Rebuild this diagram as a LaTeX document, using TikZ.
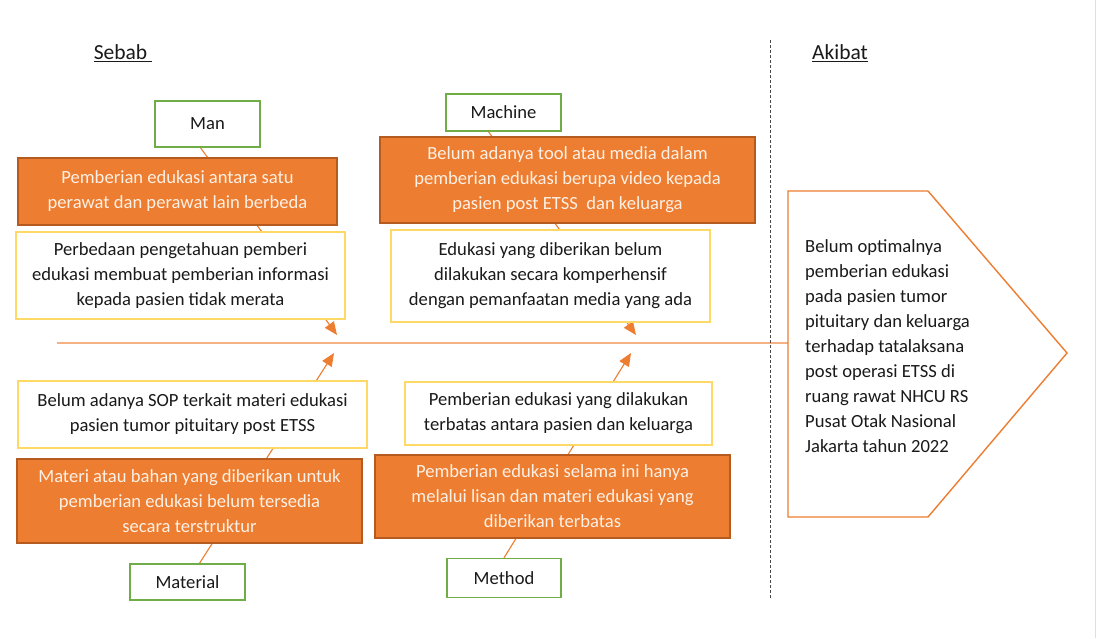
\documentclass[tikz,border=0pt]{standalone}
\usepackage{fontspec}
\setmainfont{Carlito}
\usepackage{tikz}
\usetikzlibrary{positioning, arrows.meta, calc, backgrounds}
\usepackage{xcolor}
\definecolor{fbOrange}{HTML}{ED7D31}
\definecolor{fbOrangeDark}{HTML}{B65B1F}
\definecolor{fbSpine}{HTML}{F4B183}
\definecolor{fbGreen}{HTML}{70AD47}
\definecolor{fbYellow}{HTML}{FFD966}
\definecolor{fbCream}{HTML}{FDF0E4}
\definecolor{fbText}{HTML}{1A1A1A}

\tikzset{
  katbox/.style={draw=fbGreen, line width=1.4pt, fill=white, inner sep=0pt, text=fbText},
  orgbox/.style={draw=fbOrangeDark, line width=1.4pt, fill=fbOrange, text=fbCream, align=center, inner sep=0pt},
  putbox/.style={draw=fbYellow, line width=1.1pt, fill=white, align=center, inner sep=0pt, text=fbText},
  tulang/.style={draw=fbOrange, line width=1.1pt, -{Triangle[length=13pt,width=11pt]}},
}

\begin{document}
\begin{tikzpicture}[x=1pt, y=-1pt, font=\fontsize{18.6}{25}\selectfont]
  \useasboundingbox (0,0) rectangle (1098,638);

  % Judul
  \node[font=\fontsize{21.5}{24}\selectfont, text=fbText] (sebab) at (123,53) {\underline{Sebab\ }};
  \node[font=\fontsize{21.5}{24}\selectfont, text=fbText] (akibatjudul) at (840,53) {\underline{Akibat}};
  \draw[fbText!80, line width=1pt, dash pattern=on 3pt off 2pt] (770,40) -- (770,598);

  % Kategori
  \foreach \nm/\lbl/\x/\y/\w/\h in {%
    man/Man/207.5/124/105/46,
    machine/Machine/503.5/112.5/115/37,
    material/Material/187.5/582/115/36,
    method/Method/504/578/114/39%
  } {
    \node[katbox, minimum width=\w, minimum height=\h] (\nm) at (\x,\y) {\lbl};
  }

  % Penyebab atas
  \node[orgbox, minimum width=319, minimum height=67] (manA) at (177.5,191.5)
    {Pemberian edukasi antara satu\\perawat dan perawat lain berbeda};
  \node[putbox, minimum width=329, minimum height=87] (manB) at (180.5,275.5)
    {Perbedaan pengetahuan pemberi\\edukasi membuat pemberian informasi\\kepada pasien tidak merata};
  \node[orgbox, minimum width=375, minimum height=86] (machineA) at (567.5,180)
    {Belum adanya tool atau media dalam\\pemberian edukasi berupa video kepada\\pasien post ETSS\ \ dan keluarga};
  \node[putbox, minimum width=319, minimum height=92] (machineB) at (550.5,276)
    {Edukasi yang diberikan belum\\dilakukan secara komperhensif\\dengan pemanfaatan media yang ada};

  % Penyebab bawah
  \node[putbox, minimum width=349, minimum height=67] (materialB) at (192.5,414.5)
    {Belum adanya SOP terkait materi edukasi\\pasien tumor pituitary post ETSS};
  \node[orgbox, minimum width=345, minimum height=84] (materialA) at (189.5,501)
    {Materi atau bahan yang diberikan untuk\\pemberian edukasi belum tersedia\\secara terstruktur};
  \node[putbox, minimum width=307, minimum height=63] (methodB) at (558.5,413.5)
    {Pemberian edukasi yang dilakukan\\terbatas antara pasien dan keluarga};
  \node[orgbox, minimum width=355, minimum height=83] (methodA) at (552.5,496.5)
    {Pemberian edukasi selama ini hanya\\melalui lisan dan materi edukasi yang\\diberikan terbatas};

  % Akibat
  \coordinate (pA) at (788,191);
  \coordinate (pB) at (928,191);
  \coordinate (pC) at (1067,353);
  \coordinate (pD) at (928,517);
  \coordinate (pE) at (788,517);
  \coordinate (spineEnd) at (788,343);
  \coordinate (spineStart) at (57,343);
  \draw[fbOrange, line width=1.4pt, fill=white] (pA) -- (pB) -- (pC) -- (pD) -- (pE) -- cycle;
  \node[anchor=west, align=left, text=fbText, inner sep=0pt] (akibat) at (805,346)
    {Belum optimalnya\\pemberian edukasi\\pada pasien tumor\\pituitary dan keluarga\\terhadap tatalaksana\\post operasi ETSS di\\ruang rawat NHCU RS\\Pusat Otak Nasional\\Jakarta tahun 2022};

  % Tulang ikan
  \coordinate (tipMan) at (337,335);
  \coordinate (tipMachine) at (636,335);
  \coordinate (tipMaterial) at (334,353);
  \coordinate (tipMethod) at (631,353);
  \begin{scope}[on background layer]
    \fill[white] (0,0) rectangle (1098,638);
    \draw[gray!25, line width=1pt] (1095,0) -- (1095,638);
    \draw[fbSpine, line width=1.4pt] (spineStart) -- (spineEnd);
    \draw[tulang] ([xshift=-7pt]man.south) -- (tipMan);
    \draw[tulang] ([xshift=-15pt]machine.south) -- (tipMachine);
    \draw[tulang] ([xshift=12pt]material.north) -- (tipMaterial);
    \draw[tulang] (method.north) -- (tipMethod);
  \end{scope}
\end{tikzpicture}
\end{document}
